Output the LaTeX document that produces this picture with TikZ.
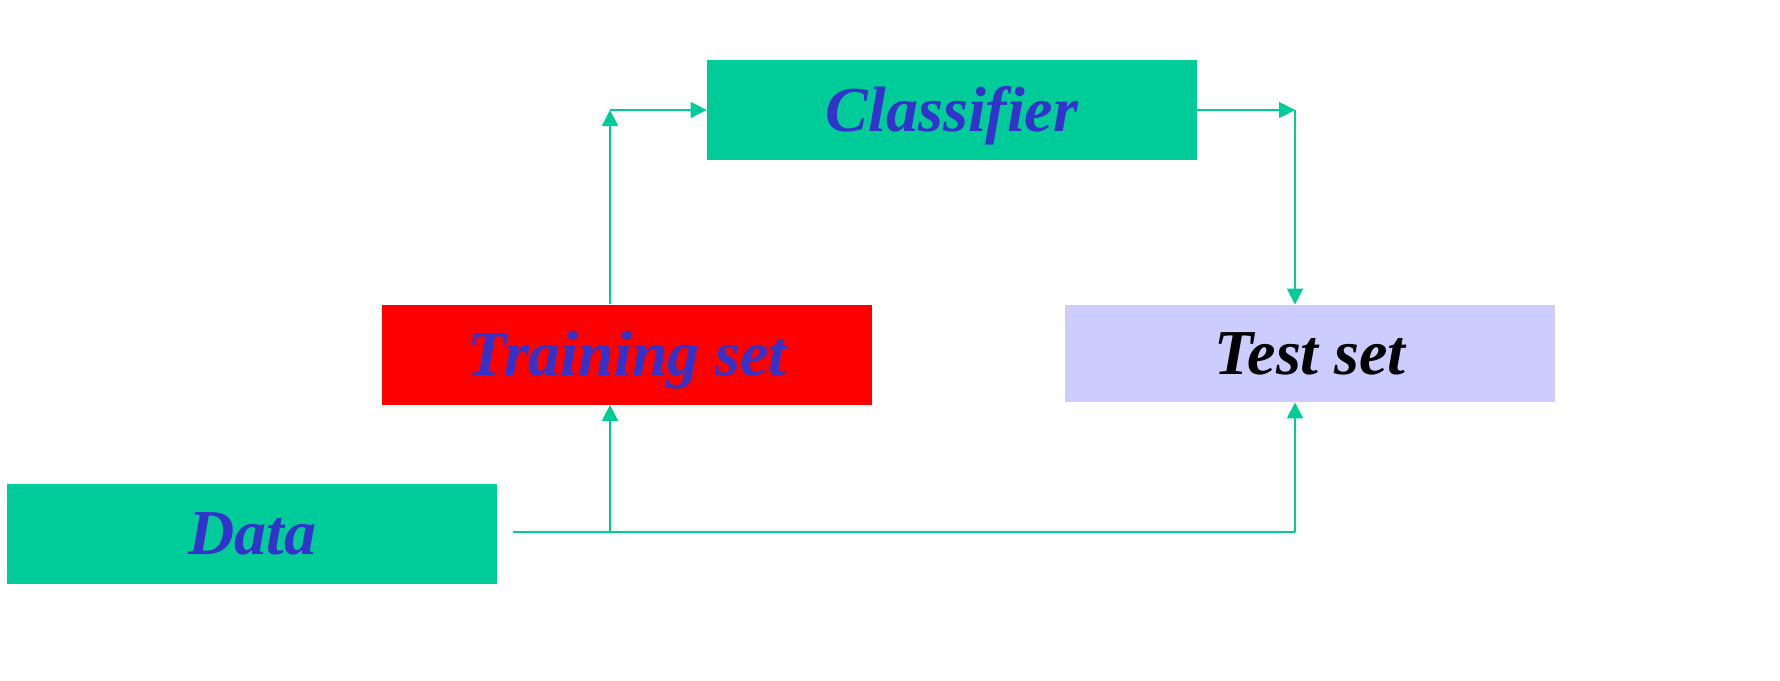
\documentclass[tikz,border=0pt]{standalone}
\usepackage{fontspec}
\setmainfont[Ligatures=NoCommon]{Liberation Serif}
\usetikzlibrary{arrows.meta}
\definecolor{boxgreen}{HTML}{00CC99}
\definecolor{txtblue}{HTML}{3333CC}
\definecolor{lavender}{HTML}{CCCCFF}
\begin{document}
\begin{tikzpicture}[x=0.5pt, y=-0.5pt,
  main/.style = {minimum width=245pt, minimum height=50pt, inner sep=0pt,
    text height=21pt, text depth=0pt, text=txtblue,
    font=\fontsize{32}{38}\selectfont\bfseries\itshape},
  link/.style = {draw=boxgreen, line width=0.85pt, -{Triangle[length=8pt,width=8pt]}}]
\useasboundingbox (0,0) rectangle (1780,680);

\node[main, fill=boxgreen] (clf)   at (952,110)   {Classifier};
\node[main, fill=red]      (train) at (627,354.5) {Training set};
\node[main, fill=lavender, minimum height=48.5pt, text=black] (test) at (1310,353.5) {Test set};
\node[main, fill=boxgreen] (data)  at (252,533.5) {Data};

\coordinate (start) at (513,532);
\coordinate (split) at (610,532);
\coordinate (end)   at (1295,532);
\coordinate (up)    at (610,110);
\coordinate (down)  at (1295,110);

\draw[link, -] (start) -- (end);
\draw[link] (split) -- (split |- train.south);
\draw[link] (end) -- (end |- test.south);
\draw[link] (split |- train.north) -- (up);
\draw[link] (up) -- (clf.west);
\draw[link] (clf.east) -- (down);
\draw[link] (down) -- (down |- test.north);
\end{tikzpicture}
\end{document}
